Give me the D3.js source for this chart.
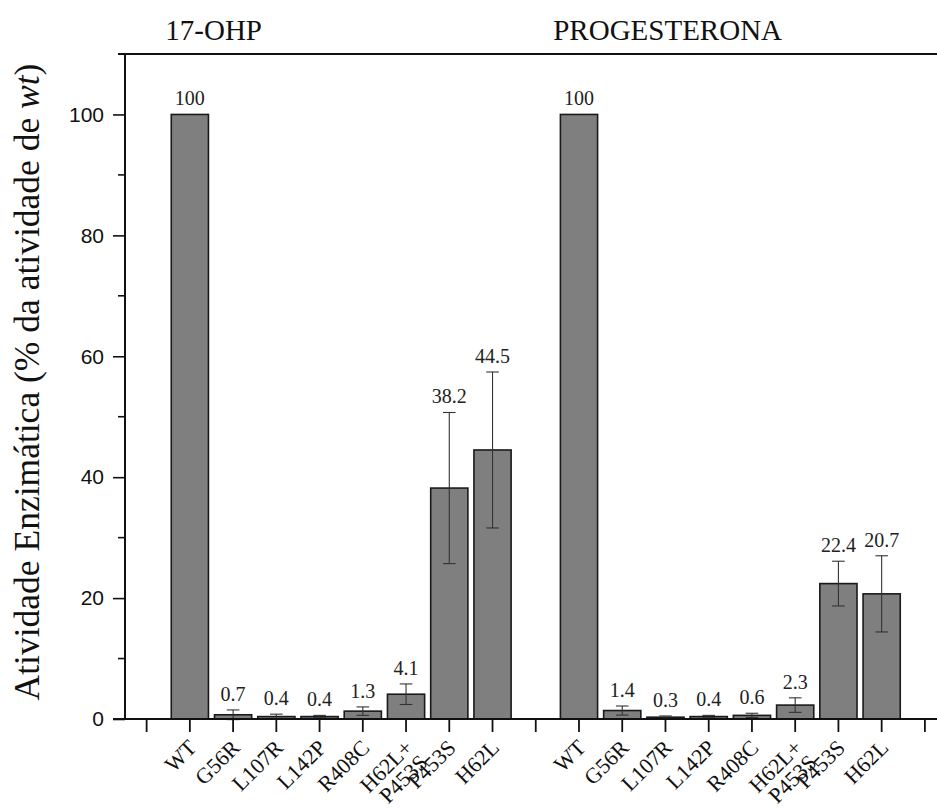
<!DOCTYPE html>
<html>
<head>
<meta charset="utf-8">
<script src="https://cdn.jsdelivr.net/npm/d3@7"></script>
<style>
  body { margin: 0; background: #fff; }
  svg { display: block; }
  .serif { font-family: 'Liberation Serif', 'Times New Roman', serif; }
  .sans { font-family: 'Liberation Sans', Arial, sans-serif; }
</style>
</head>
<body>
<svg id="chart"></svg>
<script>
var svgWidth = 937;
var svgHeight = 809;

// dados
var mutantes = ['WT', 'G56R', 'L107R', 'L142P', 'R408C', 'H62L+|P453S', 'P453S', 'H62L'];
var grupos = ['17-OHP', 'PROGESTERONA'];
var ohpValores = [100, 0.7, 0.4, 0.4, 1.3, 4.1, 38.2, 44.5];
var ohpErros = [0, 0.8, 0.4, 0.2, 0.7, 1.7, 12.5, 12.9];
var progValores = [100, 1.4, 0.3, 0.4, 0.6, 2.3, 22.4, 20.7];
var progErros = [0, 0.75, 0.2, 0.2, 0.35, 1.2, 3.7, 6.3];
var yTicks = [0, 20, 40, 60, 80, 100];
var yMinorTicks = [10, 30, 50, 70, 90];

// slots: 0 vazio, 1-8 grupo 1, 9 vazio, 10-17 grupo 2, 18 vazio
var rawData = [];
ohpValores.forEach(function(v, i){
    rawData.push({slot: i + 1, nome: mutantes[i], valor: v, erro: ohpErros[i]});
});
progValores.forEach(function(v, i){
    rawData.push({slot: i + 10, nome: mutantes[i], valor: v, erro: progErros[i]});
});
var tickSlots = d3.range(0, 19);

var plotLeft = 125, plotTop = 54, plotBottom = 719;

var xScale = d3.scaleLinear().domain([-0.5, 18.28]).range([plotLeft, svgWidth]);
var yScale = d3.scaleLinear().domain([0, 110]).range([plotBottom, plotTop]);
var step = xScale(1) - xScale(0);
var barW = step * 0.86;

var svg = d3.select('#chart').attr('width', svgWidth).attr('height', svgHeight);

// barras
svg.selectAll('.bar')
    .data(rawData)
    .enter()
    .append('rect')
    .attr('class', 'bar')
    .attr('x', function(d){ return xScale(d.slot) - barW / 2; })
    .attr('width', barW)
    .attr('y', function(d){ return yScale(d.valor); })
    .attr('height', function(d){ return yScale(0) - yScale(d.valor); })
    .attr('fill', '#7f7f7f')
    .attr('stroke', '#1a1a1a')
    .attr('stroke-width', 1.6);

// barras de erro
var errG = svg.selectAll('.err')
    .data(rawData.filter(function(d){ return d.erro > 0; }))
    .enter()
    .append('g')
    .attr('class', 'err')
    .attr('stroke', '#333')
    .attr('stroke-width', 1.1);
errG.append('line')
    .attr('x1', function(d){ return xScale(d.slot); })
    .attr('x2', function(d){ return xScale(d.slot); })
    .attr('y1', function(d){ return yScale(d.valor + d.erro); })
    .attr('y2', function(d){ return yScale(d.valor - d.erro); });
errG.append('line')
    .attr('x1', function(d){ return xScale(d.slot) - 6.3; })
    .attr('x2', function(d){ return xScale(d.slot) + 6.3; })
    .attr('y1', function(d){ return yScale(d.valor + d.erro); })
    .attr('y2', function(d){ return yScale(d.valor + d.erro); });
errG.append('line')
    .attr('x1', function(d){ return xScale(d.slot) - 6.3; })
    .attr('x2', function(d){ return xScale(d.slot) + 6.3; })
    .attr('y1', function(d){ return yScale(d.valor - d.erro); })
    .attr('y2', function(d){ return yScale(d.valor - d.erro); });

// rotulos de valor
svg.selectAll('.vlabel')
    .data(rawData)
    .enter()
    .append('text')
    .attr('class', 'vlabel serif')
    .attr('x', function(d){ return xScale(d.slot); })
    .attr('y', function(d){ return yScale(d.valor + d.erro) - 9; })
    .attr('text-anchor', 'middle')
    .attr('font-size', 20)
    .attr('fill', '#222')
    .text(function(d){ return d.valor; });

// eixo Y
var yAxis = d3.axisLeft(yScale).tickValues(yTicks).tickSize(12).tickPadding(9);
var yg = svg.append('g')
    .attr('class', 'yAxis')
    .attr('transform', 'translate(' + plotLeft + ',0)')
    .call(yAxis);
yg.attr('font-family', null);
yg.select('.domain').remove();
yg.selectAll('line').attr('stroke', '#111').attr('stroke-width', 1.6);
yg.selectAll('text')
    .attr('class', 'sans')
    .attr('font-size', 21)
    .attr('fill', '#111');

svg.append('g')
    .selectAll('line')
    .data(yMinorTicks)
    .enter()
    .append('line')
    .attr('x1', plotLeft - 7)
    .attr('x2', plotLeft)
    .attr('y1', function(d){ return yScale(d); })
    .attr('y2', function(d){ return yScale(d); })
    .attr('stroke', '#111')
    .attr('stroke-width', 1.6);

svg.append('line')
    .attr('x1', plotLeft).attr('x2', plotLeft)
    .attr('y1', plotTop).attr('y2', plotBottom)
    .attr('stroke', '#111').attr('stroke-width', 2);

// linha de cima
svg.append('line')
    .attr('x1', plotLeft - 7).attr('x2', svgWidth)
    .attr('y1', plotTop).attr('y2', plotTop)
    .attr('stroke', '#111').attr('stroke-width', 2);

// eixo X
svg.append('line')
    .attr('x1', plotLeft - 12).attr('x2', svgWidth)
    .attr('y1', plotBottom).attr('y2', plotBottom)
    .attr('stroke', '#111').attr('stroke-width', 2);
svg.append('g')
    .selectAll('line')
    .data(tickSlots)
    .enter()
    .append('line')
    .attr('x1', function(d){ return xScale(d); })
    .attr('x2', function(d){ return xScale(d); })
    .attr('y1', plotBottom)
    .attr('y2', plotBottom + 13)
    .attr('stroke', '#111')
    .attr('stroke-width', 1.8);

// rotulos X
var xl = svg.selectAll('.xlabel')
    .data(rawData)
    .enter()
    .append('text')
    .attr('class', 'xlabel serif')
    .attr('transform', function(d){
        return 'translate(' + (xScale(d.slot) + 8) + ',' + (plotBottom + 30) + ') rotate(-45)';
    })
    .attr('text-anchor', 'end')
    .attr('font-size', 22)
    .attr('fill', '#111');
xl.each(function(d){
    var partes = d.nome.split('|');
    var t = d3.select(this);
    partes.forEach(function(p, i){
        t.append('tspan').attr('x', 0).attr('dy', i === 0 ? 0 : '0.95em').text(p);
    });
});

// titulos dos grupos
svg.selectAll('.grupo')
    .data(grupos)
    .enter()
    .append('text')
    .attr('class', 'grupo serif')
    .attr('x', function(d, i){ return xScale(i === 0 ? 1.55 : 12.05); })
    .attr('y', 40)
    .attr('text-anchor', 'middle')
    .attr('font-size', 29)
    .attr('fill', '#111')
    .text(function(d){ return d; });

// titulo do eixo Y
var yt = svg.append('text')
    .attr('class', 'serif')
    .attr('transform', 'translate(39,' + 382 + ') rotate(-90)')
    .attr('text-anchor', 'middle')
    .attr('font-size', 35.5)
    .attr('fill', '#111');
yt.append('tspan').text('Atividade Enzimática (% da atividade de ');
yt.append('tspan').attr('font-style', 'italic').text('wt');
yt.append('tspan').text(')');
</script>
</body>
</html>
